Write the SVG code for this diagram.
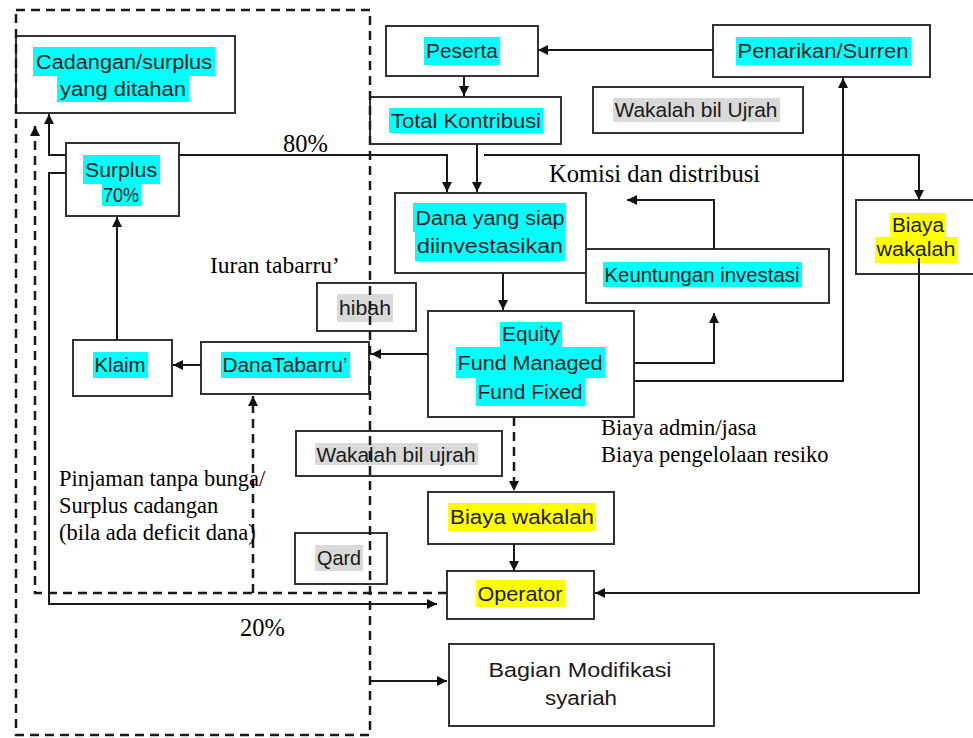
<svg xmlns="http://www.w3.org/2000/svg" width="973" height="738" viewBox="0 0 973 738">
<defs>
<marker id="ah" viewBox="0 0 10 10" refX="10" refY="5" markerWidth="10" markerHeight="11" markerUnits="userSpaceOnUse" orient="auto"><path d="M0,0 L10,5 L0,10 z" fill="#111"/></marker>
</defs>
<style>
.box{fill:#fff;stroke:#333;stroke-width:2}
.lbl{font-family:"Liberation Sans",Arial,sans-serif;font-size:20.5px;fill:#1a1a1a;text-anchor:middle}
.cy{fill:#00ffff}.ye{fill:#ffff00}.gr{fill:#d9d9d9}
.note{font-family:"Liberation Serif","Times New Roman",serif;font-size:22.5px;fill:#000}
.ln{fill:none;stroke:#1a1a1a;stroke-width:2}
.dash{fill:none;stroke:#1a1a1a;stroke-width:2.5;stroke-dasharray:9 6}
</style>
<rect width="973" height="738" fill="#fff"/>

<g id="n-cadangan">
<rect class="box" x="16" y="36" width="219" height="77"/>
<rect class="cy" x="33" y="47" width="182" height="29"/><rect class="cy" x="57" y="76" width="132" height="26"/>
<text class="lbl" x="124" y="69" textLength="176" lengthAdjust="spacingAndGlyphs">Cadangan/surplus</text>
<text class="lbl" x="123" y="96" textLength="126" lengthAdjust="spacingAndGlyphs">yang ditahan</text>
</g>
<g id="n-surplus">
<rect class="box" x="66" y="143" width="113" height="73"/>
<rect class="cy" x="83" y="155" width="77" height="29"/><rect class="cy" x="102" y="184" width="39" height="22"/>
<text class="lbl" x="121" y="177" textLength="72" lengthAdjust="spacingAndGlyphs">Surplus</text>
<text class="lbl" x="121" y="202" textLength="36" lengthAdjust="spacingAndGlyphs">70%</text>
</g>
<g id="n-peserta">
<rect class="box" x="386" y="26" width="152" height="50"/>
<rect class="cy" x="424" y="37" width="76" height="28"/>
<text class="lbl" x="462" y="58" textLength="72" lengthAdjust="spacingAndGlyphs">Peserta</text>
</g>
<g id="n-total">
<rect class="box" x="370" y="97" width="191" height="47"/>
<rect class="cy" x="389" y="108" width="154" height="25"/>
<text class="lbl" x="466" y="128" textLength="150" lengthAdjust="spacingAndGlyphs">Total Kontribusi</text>
</g>
<g id="n-penarikan">
<rect class="box" x="713" y="25" width="217" height="52"/>
<rect class="cy" x="736" y="37" width="175" height="28"/>
<text class="lbl" x="823" y="58" textLength="171" lengthAdjust="spacingAndGlyphs">Penarikan/Surren</text>
</g>
<g id="n-wakalah-top">
<rect class="box" x="593" y="87" width="210" height="46"/>
<rect class="gr" x="613" y="98" width="167" height="24"/>
<text class="lbl" x="696" y="117" textLength="163" lengthAdjust="spacingAndGlyphs">Wakalah bil Ujrah</text>
</g>
<g id="n-dana">
<rect class="box" x="395" y="193" width="191" height="80"/>
<rect class="cy" x="413" y="203" width="153" height="29"/><rect class="cy" x="415" y="232" width="150" height="29"/>
<text class="lbl" x="490" y="225" textLength="149" lengthAdjust="spacingAndGlyphs">Dana yang siap</text>
<text class="lbl" x="490" y="253" textLength="146" lengthAdjust="spacingAndGlyphs">diinvestasikan</text>
</g>
<g id="n-keuntungan">
<rect class="box" x="586" y="249" width="243" height="54"/>
<rect class="cy" x="603" y="262" width="199" height="25"/>
<text class="lbl" x="702" y="282" textLength="195" lengthAdjust="spacingAndGlyphs">Keuntungan investasi</text>
</g>
<g id="n-biaya-right">
<rect class="box" x="856" y="200" width="130" height="74"/>
<rect class="ye" x="890" y="213" width="56" height="24"/><rect class="ye" x="875" y="237" width="83" height="26"/>
<text class="lbl" x="918" y="232" textLength="52" lengthAdjust="spacingAndGlyphs">Biaya</text>
<text class="lbl" x="916" y="256" textLength="79" lengthAdjust="spacingAndGlyphs">wakalah</text>
</g>
<g id="n-equity">
<rect class="box" x="428" y="311" width="206" height="106"/>
<rect class="cy" x="500" y="322" width="62" height="25"/><rect class="cy" x="456" y="347" width="149" height="31"/><rect class="cy" x="476" y="378" width="109" height="28"/>
<text class="lbl" x="531" y="341" textLength="58" lengthAdjust="spacingAndGlyphs">Equity</text>
<text class="lbl" x="530" y="370" textLength="145" lengthAdjust="spacingAndGlyphs">Fund Managed</text>
<text class="lbl" x="530" y="399" textLength="105" lengthAdjust="spacingAndGlyphs">Fund Fixed</text>
</g>
<g id="n-hibah">
<rect class="box" x="317" y="283" width="99" height="48"/>
<rect class="gr" x="337" y="294" width="56" height="28"/>
<text class="lbl" x="365" y="315" textLength="52" lengthAdjust="spacingAndGlyphs">hibah</text>
</g>
<g id="n-klaim">
<rect class="box" x="73" y="340" width="99" height="56"/>
<rect class="cy" x="93" y="352" width="55" height="26"/>
<text class="lbl" x="120" y="372" textLength="51" lengthAdjust="spacingAndGlyphs">Klaim</text>
</g>
<g id="n-tabarru">
<rect class="box" x="201" y="342" width="168" height="52"/>
<rect class="cy" x="221" y="352" width="129" height="26"/>
<text class="lbl" x="285" y="372" textLength="125" lengthAdjust="spacingAndGlyphs">DanaTabarru’</text>
</g>
<g id="n-wakalah-low">
<rect class="box" x="296" y="431" width="206" height="45"/>
<rect class="gr" x="315" y="443" width="163" height="22"/>
<text class="lbl" x="396" y="462" textLength="159" lengthAdjust="spacingAndGlyphs">Wakalah bil ujrah</text>
</g>
<g id="n-biaya-mid">
<rect class="box" x="428" y="492" width="186" height="52"/>
<rect class="ye" x="448" y="503" width="148" height="28"/>
<text class="lbl" x="522" y="524" textLength="144" lengthAdjust="spacingAndGlyphs">Biaya wakalah</text>
</g>
<g id="n-operator">
<rect class="box" x="447" y="571" width="147" height="48"/>
<rect class="ye" x="476" y="580" width="89" height="27"/>
<text class="lbl" x="520" y="601" textLength="85" lengthAdjust="spacingAndGlyphs">Operator</text>
</g>
<g id="n-qard">
<rect class="box" x="295" y="533" width="92" height="51"/>
<rect class="gr" x="315" y="545" width="48" height="26"/>
<text class="lbl" x="339" y="565" textLength="44" lengthAdjust="spacingAndGlyphs">Qard</text>
</g>
<g id="n-bagian">
<rect class="box" x="449" y="644" width="265" height="82"/>
<text class="lbl" x="580" y="677" textLength="183" lengthAdjust="spacingAndGlyphs">Bagian Modifikasi</text>
<text class="lbl" x="581" y="705" textLength="72" lengthAdjust="spacingAndGlyphs">syariah</text>
</g>

<g id="frame">
<rect class="dash" x="16" y="10" width="354" height="725"/>
</g>

<g id="connectors">
<path class="ln" d="M713,50 H538" marker-end="url(#ah)"/>
<path class="ln" d="M464,76 V96" marker-end="url(#ah)"/>
<path class="ln" d="M179,155 H447 V192" marker-end="url(#ah)"/>
<path class="ln" d="M477,144 V192" marker-end="url(#ah)"/>
<path class="ln" d="M484,155 H919 V200" marker-end="url(#ah)"/>
<path class="ln" d="M714,249 V200 H627" marker-end="url(#ah)"/>
<path class="ln" d="M503,273 V310" marker-end="url(#ah)"/>
<path class="ln" d="M634,363 H714 V313" marker-end="url(#ah)"/>
<path class="ln" d="M634,381 H843 V78" marker-end="url(#ah)"/>
<path class="ln" d="M428,354 H371" marker-end="url(#ah)"/>
<path class="ln" d="M201,365 H173" marker-end="url(#ah)"/>
<path class="ln" d="M117,340 V217" marker-end="url(#ah)"/>
<path class="ln" d="M66,155 H49 V114" marker-end="url(#ah)"/>
<path class="ln" d="M66,173 H49 V604 H437" marker-end="url(#ah)"/>
<path class="dash" d="M514,417 V491" marker-end="url(#ah)"/>
<path class="ln" d="M514,544 V571" marker-end="url(#ah)"/>
<path class="ln" d="M919,258 V593 H595" marker-end="url(#ah)"/>
<path class="dash" d="M447,593 H35 V126" marker-end="url(#ah)"/>
<path class="dash" d="M253,593 V396" marker-end="url(#ah)"/>
<path class="ln" d="M370,681 H447" marker-end="url(#ah)"/>
</g>

<g id="notes">
<text class="note" x="283" y="152" style="font-size:24.5px">80%</text>
<text class="note" x="549" y="182" style="font-size:24.5px">Komisi dan distribusi</text>
<text class="note" x="210" y="273" style="font-size:23.5px">Iuran tabarru’</text>
<text class="note" x="601" y="435">Biaya admin/jasa</text>
<text class="note" x="601" y="462">Biaya pengelolaan resiko</text>
<text class="note" x="59" y="486">Pinjaman tanpa bunga/</text>
<text class="note" x="59" y="513">Surplus cadangan</text>
<text class="note" x="59" y="540">(bila ada deficit dana)</text>
<text class="note" x="240" y="636" style="font-size:24.5px">20%</text>
</g>
</svg>
